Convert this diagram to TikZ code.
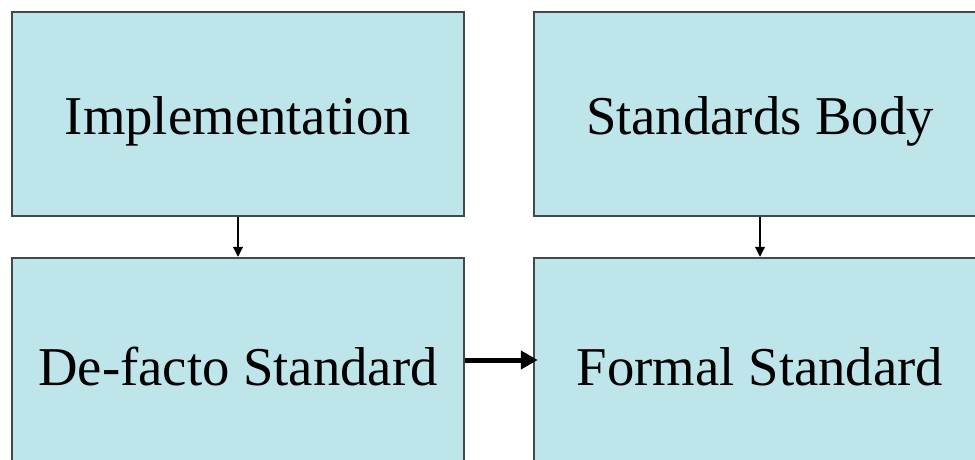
\documentclass[tikz,border=0pt]{standalone}
\usepackage{fontspec}
\setmainfont{Liberation Serif}
\usetikzlibrary{arrows.meta}
\definecolor{boxfill}{HTML}{BDE5EA}
\definecolor{boxedge}{HTML}{414B4C}
\begin{document}
\begin{tikzpicture}[x=1pt,y=-1pt,
  blk/.style={draw=boxedge,line width=2.5pt,fill=boxfill,minimum width=452pt,minimum height=204pt,inner sep=0pt,font=\fontsize{54.7}{60}\selectfont,text=black},
  lbl/.style={yshift=-7pt},
  thin/.style={draw=black,line width=1.2pt,-{Triangle[length=10pt,width=10pt]}},
  thick/.style={draw=black,line width=5pt,-{Triangle[length=17pt,width=18pt]}}]
\useasboundingbox (0,0) rectangle (975,459);
\clip (0,0) rectangle (975,459);
\node[blk] (impl) at (238,114) {};
\node[blk] (body) at (760,114) {};
\node[blk] (defacto) at (238,360) {};
\node[blk] (formal) at (760,360) {};
\node[lbl,font=\fontsize{54.7}{60}\selectfont] (t1) at (impl.center) {Implementation};
\node[lbl,font=\fontsize{54.7}{60}\selectfont] (t2) at (body.center) {Standards Body};
\node[lbl,font=\fontsize{54.7}{60}\selectfont] (t3) at (defacto.center) {De-facto Standard};
\node[lbl,font=\fontsize{54.7}{60}\selectfont] (t4) at (formal.center) {Formal Standard};
\draw[thin] (impl.south) -- (defacto.north);
\draw[thin] (body.south) -- (formal.north);
\draw[thick] (defacto.east) -- ([xshift=5pt]formal.west);
\end{tikzpicture}
\end{document}
